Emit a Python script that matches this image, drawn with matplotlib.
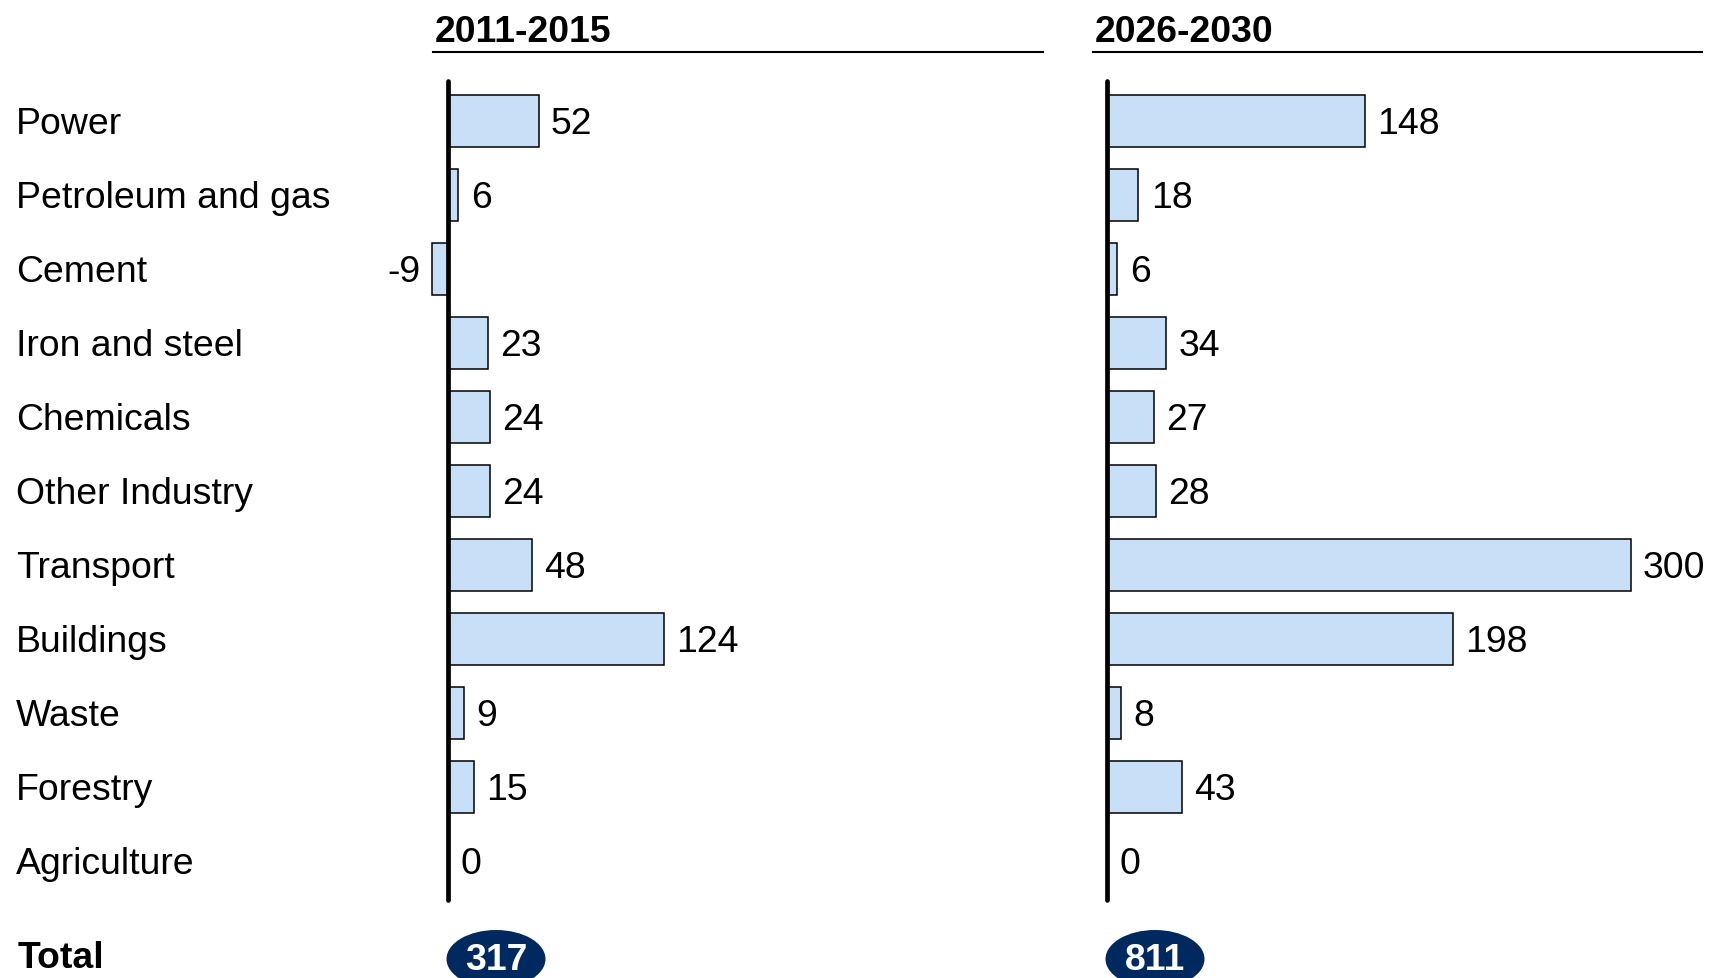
import matplotlib
matplotlib.use("Agg")
import matplotlib.pyplot as plt
from matplotlib.patches import Ellipse
from matplotlib.lines import Line2D

categories = ["Power", "Petroleum and gas", "Cement", "Iron and steel", "Chemicals",
              "Other Industry", "Transport", "Buildings", "Waste", "Forestry", "Agriculture"]
values_2011 = [52, 6, -9, 23, 24, 24, 48, 124, 9, 15, 0]
values_2026 = [148, 18, 6, 34, 27, 28, 300, 198, 8, 43, 0]
panel_titles = ["2011-2015", "2026-2030"]
totals = ["317", "811"]

W, H = 1713, 979
DPI = 100
plt.rcParams['font.family'] = ['Liberation Sans', 'DejaVu Sans']
FS = 26.9
BAR_COLOR = "#C7E0F8"
NAVY = "#002A5F"

fig = plt.figure(figsize=(W / DPI, H / DPI), dpi=DPI)

px_per_unit = 1.745
row0, row_step = 122, 74
text_dy = 3.0
ax_top, ax_bot = 82, 901
panels = [  # (header left px, header width px, zero px)
    (433, 610, 448),
    (1093, 609, 1107),
]

def fx(p):
    return p / W

def fy(p):
    return 1 - p / H

n = len(categories)
for (hleft, hwidth, zero), vals, title, tot in zip(panels, [values_2011, values_2026], panel_titles, totals):
    left = hleft - 10
    width = hwidth + 10
    ax = fig.add_axes([fx(left), fy(ax_bot), width / W, (ax_bot - ax_top) / H])
    xmin = (left - zero) / px_per_unit
    xmax = (left + width - zero) / px_per_unit
    ax.set_xlim(xmin, xmax)
    ymin_d = (ax_top - row0) / row_step
    ymax_d = (ax_bot - row0) / row_step
    ax.set_ylim(ymax_d, ymin_d)
    ax.axis("off")
    ys = list(range(n))
    ax.barh(ys, vals, height=0.70, color=BAR_COLOR, edgecolor="black", linewidth=1.1, zorder=2)
    ax.plot([0, 0], [ymin_d, ymax_d], color="black", lw=3.4, solid_capstyle="round", zorder=3,
            clip_on=False)
    off = 7.0
    tdy = text_dy / row_step
    for y, v in zip(ys, vals):
        if v < 0:
            ax.text(v - off, y + tdy, f"{v}", ha="right", va="center", fontsize=FS, zorder=4)
        else:
            ax.text(v + off, y + tdy, f"{v}", ha="left", va="center", fontsize=FS, zorder=4)
    # header
    fig.text(fx(hleft + 2), fy(32), title, fontsize=FS, fontweight="bold", ha="left", va="center")
    fig.add_artist(Line2D([fx(hleft), fx(hleft + hwidth)], [fy(53), fy(53)],
                          color="black", lw=1.5))
    # total ellipse
    cx = zero + 48
    e = Ellipse((fx(cx), fy(960)), 99 / W, 58 / H, transform=fig.transFigure,
                facecolor=NAVY, edgecolor="none")
    fig.add_artist(e)
    fig.text(fx(cx), fy(961), tot, fontsize=FS, fontweight="bold", color="white",
             ha="center", va="center")

for i, c in enumerate(categories):
    fig.text(fx(16), fy(row0 + row_step * i + text_dy), c, fontsize=FS, ha="left", va="center")
fig.text(fx(18), fy(959), "Total", fontsize=FS, fontweight="bold", ha="left", va="center")

fig.savefig("out.png", dpi=DPI)
